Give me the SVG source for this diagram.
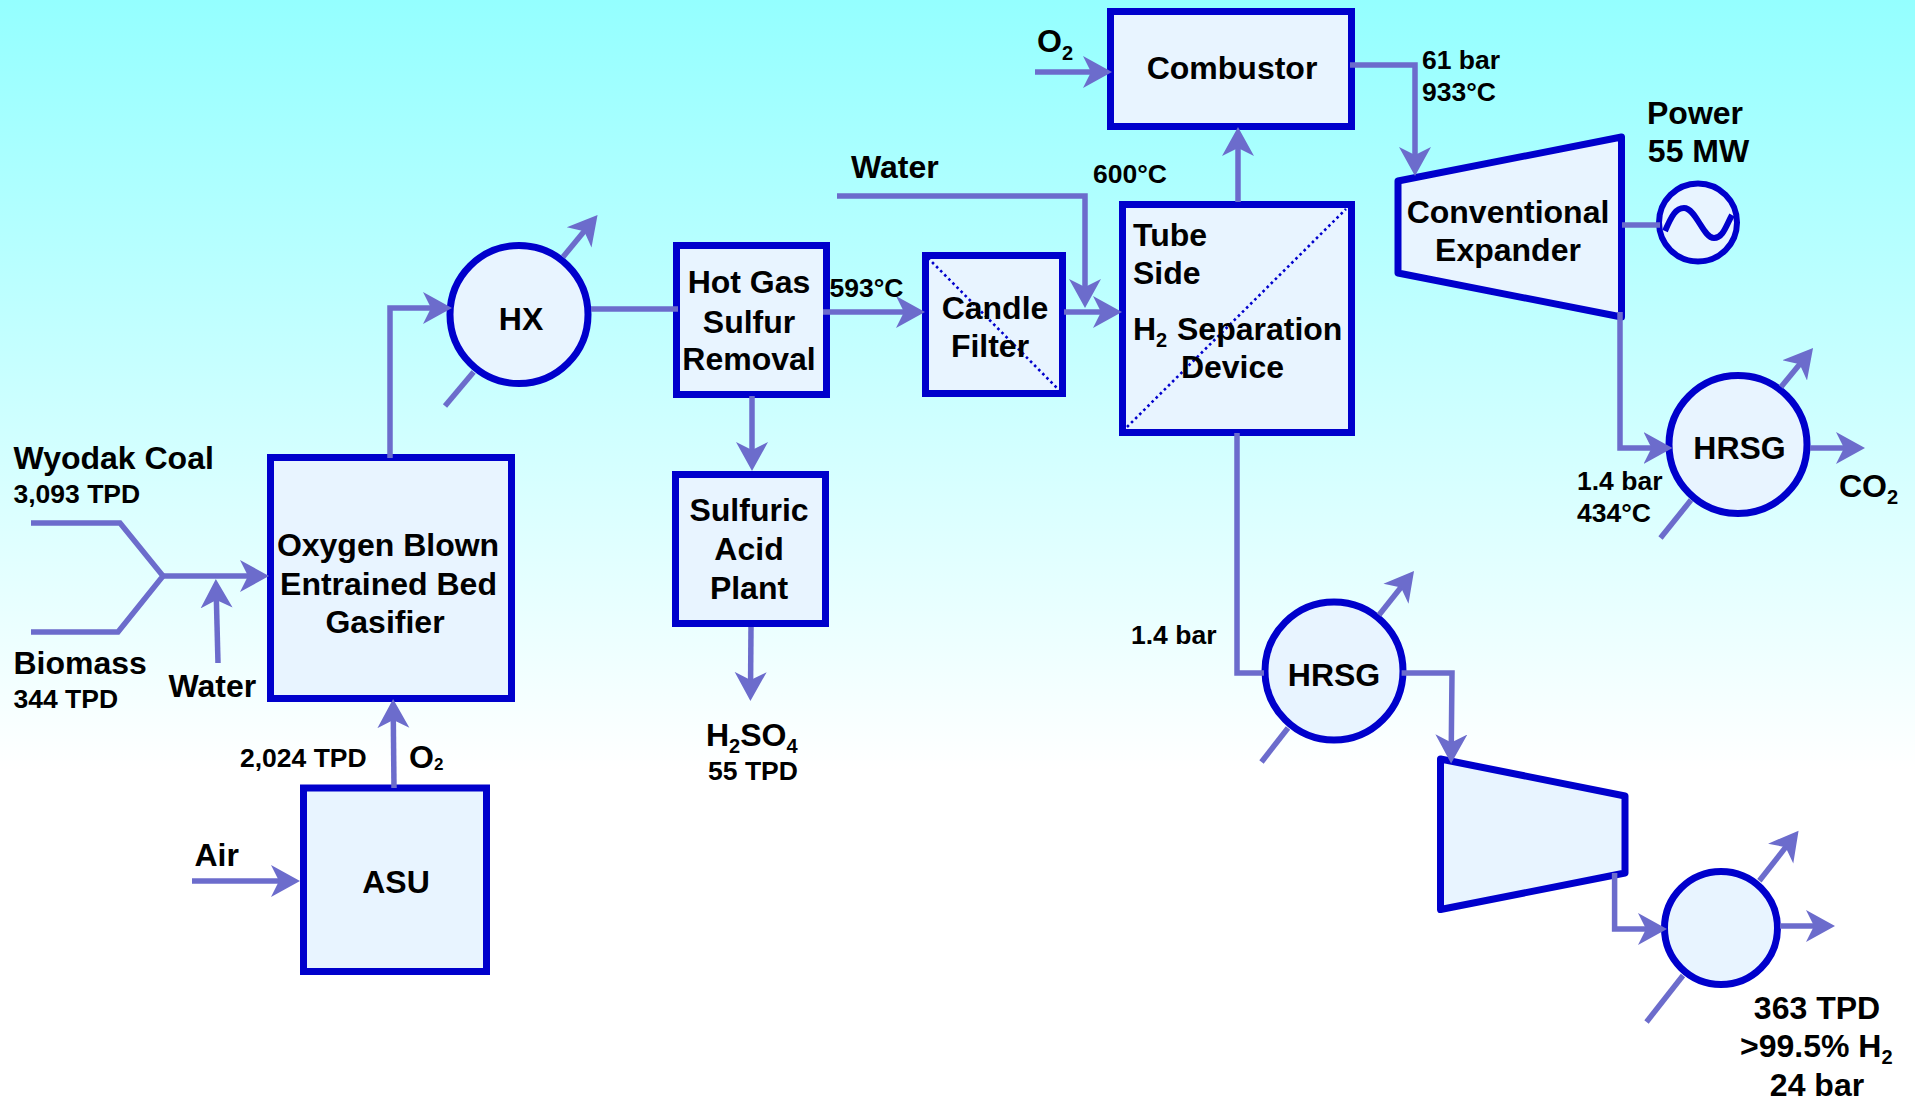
<svg xmlns="http://www.w3.org/2000/svg" width="1915" height="1101" viewBox="0 0 1915 1101">
<style>
text{font-family:"Liberation Sans",Arial,sans-serif;font-weight:700;fill:#000;font-size:32px}
.s{font-size:26.5px}
.c{text-anchor:middle}
.sub{font-size:20px}
.box{fill:#e8f4ff;stroke:#0000cc;stroke-width:7;stroke-linejoin:miter}
.tur{fill:#e8f4ff;stroke:#0000cc;stroke-width:7;stroke-linejoin:round}
.dot{fill:none;stroke:#0000cc;stroke-width:2.6;stroke-dasharray:2.6 3.2}
.l{fill:none;stroke:#6c6ccc;stroke-width:5.5;stroke-linejoin:miter}
.a{marker-end:url(#h)}
</style>
<defs>
<linearGradient id="bg" gradientUnits="userSpaceOnUse" x1="0" y1="0" x2="0" y2="770">
<stop offset="0" stop-color="#94ffff"/><stop offset="1" stop-color="#ffffff"/>
</linearGradient>
<marker id="h" markerUnits="userSpaceOnUse" markerWidth="32" markerHeight="34" viewBox="0 -17 32 34" refX="19" refY="0" orient="auto">
<path d="M0,-16 L29,0 L0,16 L8,0 z" fill="#6c6ccc"/>
</marker>
</defs>
<rect width="1915" height="1101" fill="url(#bg)"/>

<g id="gasifier"><rect class="box" x="270.5" y="457.5" width="241" height="241"/>
<text class="c" x="388" y="555.5">Oxygen Blown</text><text class="c" x="388.5" y="594.5">Entrained Bed</text><text class="c" x="385" y="632.5">Gasifier</text></g>
<g id="asu"><rect class="box" x="303.5" y="788" width="183" height="183.5"/><text class="c" x="396" y="893">ASU</text></g>
<g id="hx"><circle class="box" cx="519" cy="314.5" r="69"/><text class="c" x="521" y="330">HX</text></g>
<g id="hotgas"><rect class="box" x="676.5" y="245.5" width="150" height="149"/>
<text class="c" x="749" y="293">Hot Gas</text><text class="c" x="749" y="332.5">Sulfur</text><text class="c" x="749" y="370">Removal</text></g>
<g id="sulfuric"><rect class="box" x="675.5" y="474.5" width="150" height="149"/>
<text class="c" x="749" y="521">Sulfuric</text><text class="c" x="749" y="560">Acid</text><text class="c" x="749" y="598.5">Plant</text></g>
<g id="candle"><rect class="box" x="925.5" y="255.5" width="137" height="138"/>
<line class="dot" x1="928" y1="258" x2="1060" y2="391"/>
<text class="c" x="995" y="319">Candle</text><text class="c" x="990" y="357">Filter</text></g>
<g id="membrane"><rect class="box" x="1122.5" y="204.5" width="229" height="228"/>
<line class="dot" x1="1127" y1="427" x2="1346" y2="209"/>
<text x="1133" y="245.5">Tube</text><text x="1133" y="283.5">Side</text>
<text x="1133" y="340">H<tspan class="sub" dy="7">2</tspan></text><text x="1177" y="340">Separation</text>
<text class="c" x="1232.5" y="378">Device</text></g>
<g id="combustor"><rect class="box" x="1110.5" y="11.5" width="241" height="115"/><text class="c" x="1232" y="79">Combustor</text></g>
<g id="expander"><polygon class="tur" points="1398,181 1621.5,137 1621.5,317 1398,273"/>
<text class="c" x="1508" y="223">Conventional</text><text class="c" x="1508" y="261">Expander</text></g>
<g id="generator"><circle class="box" cx="1698" cy="222.5" r="39" style="stroke-width:6"/>
<path d="M1665,231 C1672,215 1676,208 1684,208 C1696,208 1703,238 1714,238 C1723,238 1726,226 1732,215" fill="none" stroke="#0000cc" stroke-width="6"/></g>
<g id="hrsg1"><circle class="box" cx="1738" cy="444.5" r="69"/><text class="c" x="1739.5" y="459">HRSG</text></g>
<g id="hrsg2"><circle class="box" cx="1334" cy="671" r="69"/><text class="c" x="1334" y="686">HRSG</text></g>
<g id="compressor"><polygon class="tur" points="1440.5,759 1625,796 1625,873 1440.5,909.5"/></g>
<g id="hx3"><circle class="box" cx="1721" cy="928" r="56.5"/></g>

<g id="connectors">
<path class="l" d="M31,523 H120 L163,576 L118,632 H31"/>
<path class="l a" d="M160,576 H259"/>
<path class="l a" d="M218,663 L216.1,589"/>
<path class="l a" d="M394,788 L393.2,709"/>
<path class="l a" d="M192,881 H290"/>
<path class="l a" d="M390,458 V308 H442"/>
<path class="l a" d="M563,257 L591.2,222.7"/>
<path class="l" d="M473.6,372 L445,406"/>
<path class="l" d="M591,309 H678"/>
<path class="l a" d="M823,312 H915"/>
<path class="l a" d="M752,396 V461"/>
<path class="l a" d="M751,627 L750.5,691"/>
<path class="l a" d="M837,196 H1085 V298"/>
<path class="l a" d="M1064,312 H1112"/>
<path class="l a" d="M1238,202 V137"/>
<path class="l a" d="M1035,72 H1102"/>
<path class="l a" d="M1350,65 H1415 V166"/>
<path class="l" d="M1622,225 H1660"/>
<path class="l a" d="M1620,312 V448 H1662.5"/>
<path class="l a" d="M1781,387 L1806.7,355.7"/>
<path class="l" d="M1691,500 L1660.5,538"/>
<path class="l a" d="M1810,448 H1855"/>
<path class="l" d="M1237,433 V673 H1264"/>
<path class="l a" d="M1401.6,673 H1452 L1451.2,753.4"/>
<path class="l a" d="M1379,615 L1407.8,578.8"/>
<path class="l" d="M1288,728 L1261.5,762"/>
<path class="l a" d="M1614.6,873 V929 H1657"/>
<path class="l a" d="M1759.4,880.7 L1792.4,838.6"/>
<path class="l" d="M1683,975.5 L1646.5,1022"/>
<path class="l a" d="M1780,926 H1825"/>
</g>

<g id="labels">
<text x="13.5" y="469">Wyodak Coal</text><text class="s" x="13.5" y="503">3,093 TPD</text>
<text x="13.5" y="674">Biomass</text><text class="s" x="13.5" y="708">344 TPD</text>
<text x="168.5" y="697">Water</text>
<text class="s" x="240" y="767">2,024 TPD</text>
<text x="409" y="768">O<tspan style="font-size:17px" dy="2">2</tspan></text>
<text x="194.5" y="866">Air</text>
<text class="s" x="829.5" y="297">593°C</text>
<text x="851" y="178">Water</text>
<text x="1037" y="52">O<tspan class="sub" dy="8">2</tspan></text>
<text class="s" x="1093" y="183">600°C</text>
<text class="s" x="1422" y="69">61 bar</text><text class="s" x="1422" y="101">933°C</text>
<text x="706" y="746">H<tspan class="sub" dy="7">2</tspan><tspan dy="-7">SO</tspan><tspan class="sub" dy="7">4</tspan></text>
<text class="s c" x="753" y="780">55 TPD</text>
<text class="c" x="1695" y="124">Power</text><text class="c" x="1698.5" y="162">55 MW</text>
<text class="s" x="1577" y="490">1.4 bar</text><text class="s" x="1577" y="522">434°C</text>
<text x="1839" y="497">CO<tspan class="sub" dy="7">2</tspan></text>
<text class="s" x="1131" y="644">1.4 bar</text>
<text class="c" x="1817" y="1019">363 TPD</text>
<text x="1740" y="1057">&gt;99.5% H<tspan class="sub" dy="7">2</tspan></text>
<text class="c" x="1817" y="1096">24 bar</text>
</g>
</svg>
